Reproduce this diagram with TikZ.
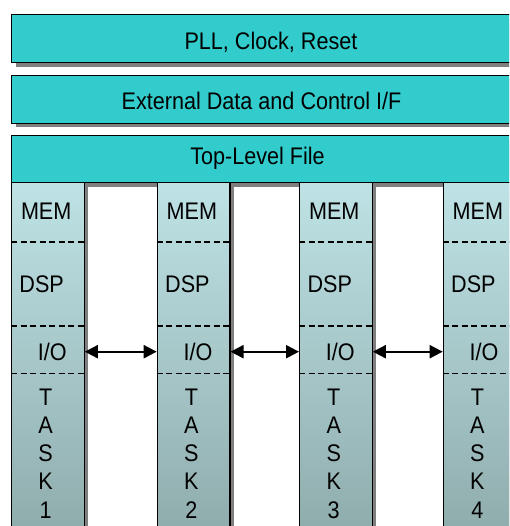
\documentclass[tikz,border=0pt]{standalone}
\usepackage{fontspec}
\setmainfont{Liberation Sans}[FakeStretch=0.9]
\usetikzlibrary{shadows,arrows.meta}
\definecolor{topcyan}{HTML}{33CCCC}
\definecolor{coltop}{HTML}{BEE2E5}
\definecolor{colbot}{HTML}{8CA8A8}
\definecolor{shadowgray}{HTML}{7F7F7F}
\tikzset{
  shadowed/.style={drop shadow={shadow xshift=4pt, shadow yshift=-4pt, fill=shadowgray, opacity=1}},
  bar/.style={rectangle, draw=black, line width=1.3pt, fill=topcyan, inner sep=0pt,
    anchor=north west, minimum width=512pt, shadowed},
  colbox/.style={rectangle, draw=black, line width=1.3pt, top color=coltop, bottom color=colbot,
    inner sep=0pt, anchor=north west, minimum width=72.5pt, minimum height=380pt, shadowed},
  lab/.style={inner sep=0pt, anchor=base, font=\fontsize{24}{28}\selectfont},
  sep/.style={dashed, dash pattern=on 6pt off 3.5pt, line width=1.6pt},
  biarrow/.style={line width=2pt, {Triangle[length=13pt,width=13pt]}-{Triangle[length=13pt,width=13pt]}}
}
\begin{document}
\begin{tikzpicture}[x=1pt,y=-1pt]
\useasboundingbox (0,0) rectangle (509,526);
\clip (0,0) rectangle (509,526);
\node[bar, minimum height=48pt] (pll) at (11,14) {};
\node[bar, minimum height=48pt] (ext) at (11,74.7) {};
\node[bar, minimum height=47pt] (top) at (11,135) {};
\node[lab] (tpll) at (271,49.3) {PLL, Clock, Reset};
\node[lab] (text) at (261.5,109.5) {External Data and Control I/F};
\node[lab] (ttop) at (257.5,165) {Top-Level File};
\coordinate (ymd) at (0,242);
\coordinate (ydi) at (0,326);
\coordinate (yit) at (0,373.5);
\coordinate (yio) at (0,351.7);
\foreach \i/\x in {1/11,2/156.7,3/299,4/442.7}{
  \node[colbox] (c\i) at (\x,182) {};
  \draw[sep] (c\i.west |- ymd) -- (c\i.east |- ymd);
  \draw[sep] (c\i.west |- ydi) -- (c\i.east |- ydi);
  \draw[sep] (c\i.west |- yit) -- (c\i.east |- yit);
  \node[lab] (mem\i) at ({\x+35.2},219.3) {MEM};
  \node[lab] (dsp\i) at ({\x+30.7},292.3) {DSP};
  \node[lab] (io\i) at ({\x+41.2},360.7) {I/O};
  \foreach \l [count=\k from 0] in {T,A,S,K,\i}{
    \node[lab] (t\i\k) at ({\x+34.7},{405+28.3*\k}) {\l};
  }
}
\draw[biarrow] (c1.east |- yio) -- (c2.west |- yio);
\draw[biarrow] (c2.east |- yio) -- (c3.west |- yio);
\draw[biarrow] (c3.east |- yio) -- (c4.west |- yio);
\end{tikzpicture}
\end{document}
